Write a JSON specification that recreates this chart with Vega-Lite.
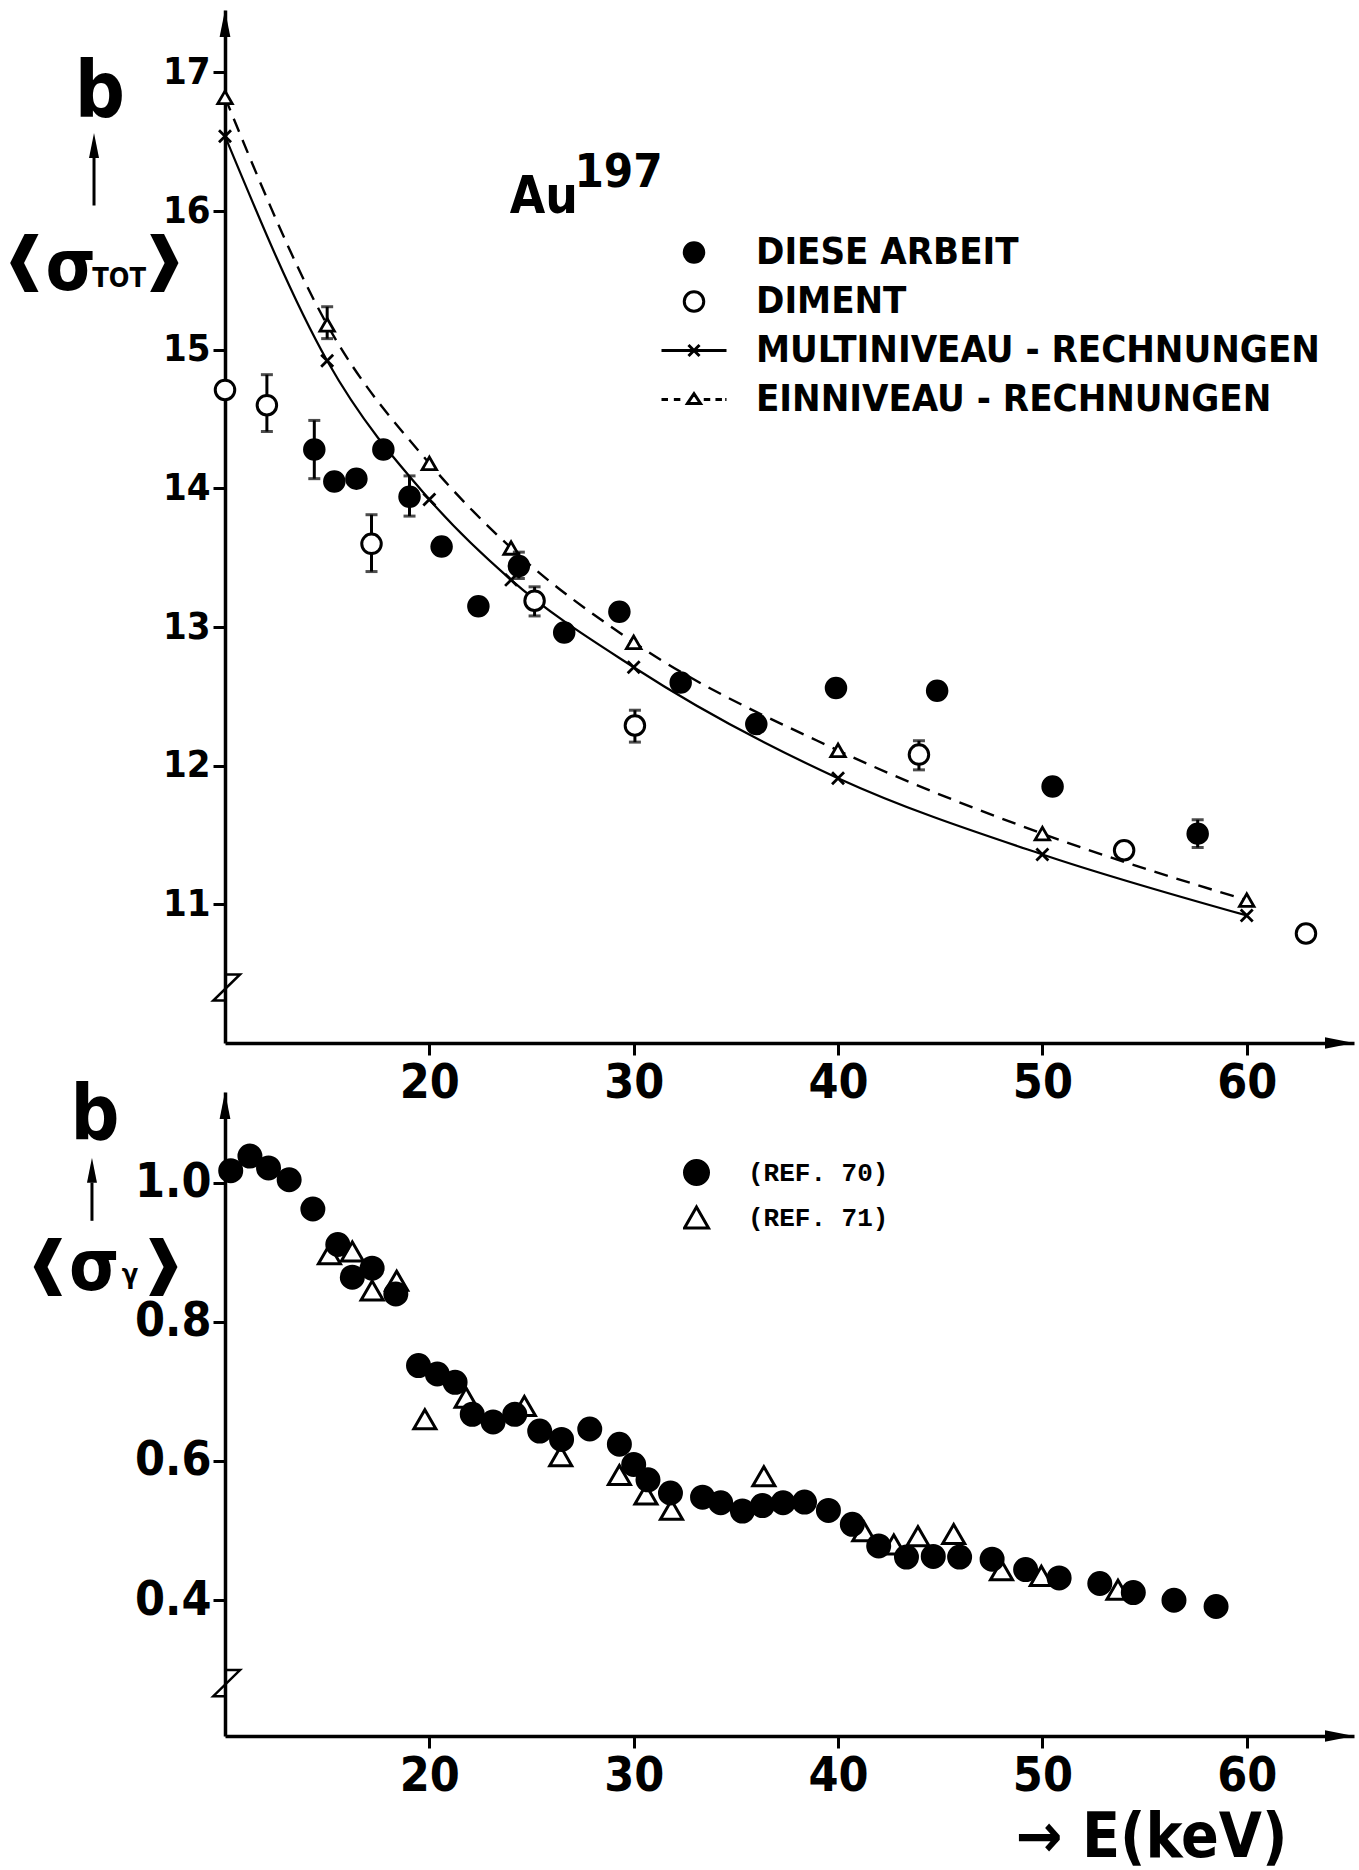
{
  "$schema": "https://vega.github.io/schema/vega-lite/v6.json",
  "background": "white",
  "padding": {"left": 0, "top": 9, "right": 5, "bottom": 2},
  "spacing": 49,
  "bounds": "flush",
  "resolve": {"scale": {"shape": "independent", "fill": "independent", "stroke": "independent"}, "legend": {"shape": "independent", "fill": "independent", "stroke": "independent"}},
  "config": {
    "view": {"stroke": null},
    "axis": {
      "grid": false,
      "domainColor": "black",
      "domainWidth": 3.5,
      "tickColor": "black",
      "tickWidth": 3,
      "tickSize": 12,
      "labelColor": "black",
      "labelFont": "Liberation Sans Narrow, DejaVu Sans Condensed, Liberation Sans, sans-serif",
      "labelFontWeight": "bold"
    }
  },
  "datasets": {
    "one": [{}],
    "tot": [
      {"series": "DIESE ARBEIT", "E": 14.37, "sigma": 14.28, "lo": 14.07, "hi": 14.49},
      {"series": "DIESE ARBEIT", "E": 15.35, "sigma": 14.05},
      {"series": "DIESE ARBEIT", "E": 16.43, "sigma": 14.07},
      {"series": "DIESE ARBEIT", "E": 17.75, "sigma": 14.28},
      {"series": "DIESE ARBEIT", "E": 19.03, "sigma": 13.94, "lo": 13.8, "hi": 14.09},
      {"series": "DIESE ARBEIT", "E": 20.6, "sigma": 13.58},
      {"series": "DIESE ARBEIT", "E": 22.4, "sigma": 13.15},
      {"series": "DIESE ARBEIT", "E": 24.38, "sigma": 13.44, "lo": 13.35, "hi": 13.54},
      {"series": "DIESE ARBEIT", "E": 26.6, "sigma": 12.96},
      {"series": "DIESE ARBEIT", "E": 29.3, "sigma": 13.11},
      {"series": "DIESE ARBEIT", "E": 32.3, "sigma": 12.6},
      {"series": "DIESE ARBEIT", "E": 36.0, "sigma": 12.3},
      {"series": "DIESE ARBEIT", "E": 39.9, "sigma": 12.56},
      {"series": "DIESE ARBEIT", "E": 44.85, "sigma": 12.54},
      {"series": "DIESE ARBEIT", "E": 50.5, "sigma": 11.85},
      {"series": "DIESE ARBEIT", "E": 57.6, "sigma": 11.51, "lo": 11.41, "hi": 11.61},
      {"series": "DIMENT", "E": 10.0, "sigma": 14.71},
      {"series": "DIMENT", "E": 12.05, "sigma": 14.6, "lo": 14.41, "hi": 14.82},
      {"series": "DIMENT", "E": 17.17, "sigma": 13.6, "lo": 13.4, "hi": 13.81},
      {"series": "DIMENT", "E": 25.15, "sigma": 13.19, "lo": 13.08, "hi": 13.29},
      {"series": "DIMENT", "E": 30.06, "sigma": 12.29, "lo": 12.17, "hi": 12.4},
      {"series": "DIMENT", "E": 43.96, "sigma": 12.08, "lo": 11.97, "hi": 12.18},
      {"series": "DIMENT", "E": 54.0, "sigma": 11.39},
      {"series": "DIMENT", "E": 62.9, "sigma": 10.79}
    ],
    "calc": [
      {"series": "MULTINIVEAU - RECHNUNGEN", "E": 10, "sigma": 16.54},
      {"series": "MULTINIVEAU - RECHNUNGEN", "E": 15, "sigma": 14.92},
      {"series": "MULTINIVEAU - RECHNUNGEN", "E": 20, "sigma": 13.92},
      {"series": "MULTINIVEAU - RECHNUNGEN", "E": 24, "sigma": 13.34},
      {"series": "MULTINIVEAU - RECHNUNGEN", "E": 30, "sigma": 12.71},
      {"series": "MULTINIVEAU - RECHNUNGEN", "E": 40, "sigma": 11.91},
      {"series": "MULTINIVEAU - RECHNUNGEN", "E": 50, "sigma": 11.36},
      {"series": "MULTINIVEAU - RECHNUNGEN", "E": 60, "sigma": 10.92},
      {"series": "EINNIVEAU - RECHNUNGEN", "E": 10, "sigma": 16.82},
      {"series": "EINNIVEAU - RECHNUNGEN", "E": 15, "sigma": 15.18, "lo": 15.08, "hi": 15.31},
      {"series": "EINNIVEAU - RECHNUNGEN", "E": 20, "sigma": 14.18},
      {"series": "EINNIVEAU - RECHNUNGEN", "E": 24, "sigma": 13.57},
      {"series": "EINNIVEAU - RECHNUNGEN", "E": 30, "sigma": 12.89},
      {"series": "EINNIVEAU - RECHNUNGEN", "E": 40, "sigma": 12.11},
      {"series": "EINNIVEAU - RECHNUNGEN", "E": 50, "sigma": 11.51},
      {"series": "EINNIVEAU - RECHNUNGEN", "E": 60, "sigma": 11.03}
    ],
    "capt": [
      {"ref": "(REF. 71)", "E": 15.11, "sigma": 0.897},
      {"ref": "(REF. 71)", "E": 16.23, "sigma": 0.901},
      {"ref": "(REF. 71)", "E": 17.2, "sigma": 0.845},
      {"ref": "(REF. 71)", "E": 18.4, "sigma": 0.859},
      {"ref": "(REF. 71)", "E": 19.78, "sigma": 0.66},
      {"ref": "(REF. 71)", "E": 21.8, "sigma": 0.691},
      {"ref": "(REF. 71)", "E": 24.65, "sigma": 0.679},
      {"ref": "(REF. 71)", "E": 26.43, "sigma": 0.607},
      {"ref": "(REF. 71)", "E": 29.3, "sigma": 0.58},
      {"ref": "(REF. 71)", "E": 30.6, "sigma": 0.552},
      {"ref": "(REF. 71)", "E": 31.85, "sigma": 0.53},
      {"ref": "(REF. 71)", "E": 36.37, "sigma": 0.578},
      {"ref": "(REF. 71)", "E": 41.26, "sigma": 0.499},
      {"ref": "(REF. 71)", "E": 42.73, "sigma": 0.48},
      {"ref": "(REF. 71)", "E": 43.91, "sigma": 0.492},
      {"ref": "(REF. 71)", "E": 45.66, "sigma": 0.495},
      {"ref": "(REF. 71)", "E": 48.0, "sigma": 0.443},
      {"ref": "(REF. 71)", "E": 49.95, "sigma": 0.435},
      {"ref": "(REF. 71)", "E": 53.7, "sigma": 0.415},
      {"ref": "(REF. 70)", "E": 10.28, "sigma": 1.017},
      {"ref": "(REF. 70)", "E": 11.22, "sigma": 1.038},
      {"ref": "(REF. 70)", "E": 12.13, "sigma": 1.021},
      {"ref": "(REF. 70)", "E": 13.14, "sigma": 1.004},
      {"ref": "(REF. 70)", "E": 14.3, "sigma": 0.962},
      {"ref": "(REF. 70)", "E": 15.52, "sigma": 0.911},
      {"ref": "(REF. 70)", "E": 16.23, "sigma": 0.864},
      {"ref": "(REF. 70)", "E": 17.2, "sigma": 0.877},
      {"ref": "(REF. 70)", "E": 18.36, "sigma": 0.84},
      {"ref": "(REF. 70)", "E": 19.47, "sigma": 0.737},
      {"ref": "(REF. 70)", "E": 20.39, "sigma": 0.725},
      {"ref": "(REF. 70)", "E": 21.26, "sigma": 0.713},
      {"ref": "(REF. 70)", "E": 22.1, "sigma": 0.667},
      {"ref": "(REF. 70)", "E": 23.12, "sigma": 0.656},
      {"ref": "(REF. 70)", "E": 24.18, "sigma": 0.667},
      {"ref": "(REF. 70)", "E": 25.4, "sigma": 0.643},
      {"ref": "(REF. 70)", "E": 26.47, "sigma": 0.631},
      {"ref": "(REF. 70)", "E": 27.85, "sigma": 0.646},
      {"ref": "(REF. 70)", "E": 29.3, "sigma": 0.624},
      {"ref": "(REF. 70)", "E": 30.0, "sigma": 0.595},
      {"ref": "(REF. 70)", "E": 30.7, "sigma": 0.573},
      {"ref": "(REF. 70)", "E": 31.8, "sigma": 0.554},
      {"ref": "(REF. 70)", "E": 33.37, "sigma": 0.548},
      {"ref": "(REF. 70)", "E": 34.26, "sigma": 0.54},
      {"ref": "(REF. 70)", "E": 35.32, "sigma": 0.528},
      {"ref": "(REF. 70)", "E": 36.3, "sigma": 0.536},
      {"ref": "(REF. 70)", "E": 37.31, "sigma": 0.54},
      {"ref": "(REF. 70)", "E": 38.36, "sigma": 0.541},
      {"ref": "(REF. 70)", "E": 39.53, "sigma": 0.529},
      {"ref": "(REF. 70)", "E": 40.7, "sigma": 0.509},
      {"ref": "(REF. 70)", "E": 41.99, "sigma": 0.478},
      {"ref": "(REF. 70)", "E": 43.35, "sigma": 0.462},
      {"ref": "(REF. 70)", "E": 44.66, "sigma": 0.463},
      {"ref": "(REF. 70)", "E": 45.95, "sigma": 0.462},
      {"ref": "(REF. 70)", "E": 47.54, "sigma": 0.459},
      {"ref": "(REF. 70)", "E": 49.18, "sigma": 0.444},
      {"ref": "(REF. 70)", "E": 50.82, "sigma": 0.432},
      {"ref": "(REF. 70)", "E": 52.81, "sigma": 0.424},
      {"ref": "(REF. 70)", "E": 54.45, "sigma": 0.411},
      {"ref": "(REF. 70)", "E": 56.44, "sigma": 0.4},
      {"ref": "(REF. 70)", "E": 58.5, "sigma": 0.391}
    ]
  },
  "vconcat": [
    {
      "width": 1129,
      "height": 1033,
      "layer": [
        {
          "data": {"name": "calc"},
          "transform": [{"filter": "datum.series === 'MULTINIVEAU - RECHNUNGEN'"}],
          "mark": {"type": "line", "interpolate": "monotone", "color": "black", "strokeWidth": 2.2},
          "encoding": {
            "x": {"field": "E", "type": "quantitative", "title": null,
              "scale": {"domain": [10, 65.25], "nice": false, "zero": false},
              "axis": {"values": [20, 30, 40, 50, 60], "format": "d", "labelFontSize": 48, "labelPadding": 4}},
            "y": {"field": "sigma", "type": "quantitative", "title": null,
              "scale": {"domain": [10, 17.45], "nice": false, "zero": false},
              "axis": {"values": [11, 12, 13, 14, 15, 16, 17], "format": "d", "labelFontSize": 38, "labelPadding": 3}}
          }
        },
        {
          "data": {"name": "calc"},
          "transform": [{"filter": "datum.series === 'EINNIVEAU - RECHNUNGEN'"}],
          "mark": {"type": "line", "interpolate": "monotone", "color": "black", "strokeWidth": 2.4, "strokeDash": [14, 9]},
          "encoding": {
            "x": {"field": "E", "type": "quantitative", "title": null},
            "y": {"field": "sigma", "type": "quantitative", "title": null}
          }
        },
        {
          "data": {"name": "calc"},
          "transform": [{"filter": "isValid(datum.lo)"}],
          "mark": {"type": "errorbar", "ticks": true, "size": 12, "thickness": 3, "color": "black"},
          "encoding": {
            "x": {"field": "E", "type": "quantitative", "title": null},
            "y": {"field": "lo", "type": "quantitative", "title": null},
            "y2": {"field": "hi"}
          }
        },
        {
          "data": {"name": "calc"},
          "transform": [{"filter": "datum.series === 'MULTINIVEAU - RECHNUNGEN'"}],
          "mark": {"type": "point", "shape": "M-1,-1L1,1M-1,1L1,-1", "size": 144, "stroke": "black", "strokeWidth": 2.8, "opacity": 1},
          "encoding": {
            "x": {"field": "E", "type": "quantitative", "title": null},
            "y": {"field": "sigma", "type": "quantitative", "title": null}
          }
        },
        {
          "data": {"name": "calc"},
          "transform": [{"filter": "datum.series === 'EINNIVEAU - RECHNUNGEN'"}],
          "mark": {"type": "point", "shape": "triangle-up", "size": 210, "stroke": "black", "strokeWidth": 2.8, "fill": "white", "opacity": 1},
          "encoding": {
            "x": {"field": "E", "type": "quantitative", "title": null},
            "y": {"field": "sigma", "type": "quantitative", "title": null}
          }
        },
        {
          "data": {"name": "tot"},
          "transform": [{"filter": "isValid(datum.lo)"}],
          "mark": {"type": "errorbar", "ticks": true, "size": 12, "thickness": 3, "color": "black"},
          "encoding": {
            "x": {"field": "E", "type": "quantitative", "title": null},
            "y": {"field": "lo", "type": "quantitative", "title": null},
            "y2": {"field": "hi"}
          }
        },
        {
          "data": {"name": "tot"},
          "mark": {"type": "point", "size": 4225, "strokeWidth": 3, "opacity": 1},
          "encoding": {
            "x": {"field": "E", "type": "quantitative", "title": null},
            "y": {"field": "sigma", "type": "quantitative", "title": null},
            "shape": {"field": "series", "type": "nominal",
              "scale": {"domain": ["DIESE ARBEIT", "DIMENT", "MULTINIVEAU - RECHNUNGEN", "EINNIVEAU - RECHNUNGEN"],
                "range": [
                  "M-0.3,0A0.3,0.3,0,1,0,0.3,0A0.3,0.3,0,1,0,-0.3,0Z",
                  "M-0.3,0A0.3,0.3,0,1,0,0.3,0A0.3,0.3,0,1,0,-0.3,0Z",
                  "M-1,0L1,0M-0.17,-0.17L0.17,0.17M-0.17,0.17L0.17,-0.17",
                  "M-1,0L-0.8,0M-0.62,0L-0.42,0M-0.2,0.12L0,-0.18L0.2,0.12ZM0.3,0L0.5,0M0.66,0L0.86,0M0.96,0L1,0"]},
              "legend": {"orient": "none", "legendX": 435, "legendY": 219, "title": null, "symbolSize": 4225, "symbolStrokeWidth": 3,
                "labelFont": "Liberation Sans Narrow, DejaVu Sans Condensed, Liberation Sans, sans-serif", "labelFontSize": 38, "labelFontWeight": "bold", "labelColor": "black",
                "labelOffset": 28, "clipHeight": 47, "rowPadding": 2, "padding": 0, "labelLimit": 1000}},
            "fill": {"field": "series", "type": "nominal",
              "scale": {"domain": ["DIESE ARBEIT", "DIMENT", "MULTINIVEAU - RECHNUNGEN", "EINNIVEAU - RECHNUNGEN"],
                "range": ["black", "white", "transparent", "transparent"]},
              "legend": {"orient": "none", "legendX": 435, "legendY": 219, "title": null, "symbolSize": 4225, "symbolStrokeWidth": 3,
                "labelFont": "Liberation Sans Narrow, DejaVu Sans Condensed, Liberation Sans, sans-serif", "labelFontSize": 38, "labelFontWeight": "bold", "labelColor": "black",
                "labelOffset": 28, "clipHeight": 47, "rowPadding": 2, "padding": 0, "labelLimit": 1000}},
            "stroke": {"field": "series", "type": "nominal",
              "scale": {"domain": ["DIESE ARBEIT", "DIMENT", "MULTINIVEAU - RECHNUNGEN", "EINNIVEAU - RECHNUNGEN"],
                "range": ["black", "black", "black", "black"]},
              "legend": {"orient": "none", "legendX": 435, "legendY": 219, "title": null, "symbolSize": 4225, "symbolStrokeWidth": 3,
                "labelFont": "Liberation Sans Narrow, DejaVu Sans Condensed, Liberation Sans, sans-serif", "labelFontSize": 38, "labelFontWeight": "bold", "labelColor": "black",
                "labelOffset": 28, "clipHeight": 47, "rowPadding": 2, "padding": 0, "labelLimit": 1000}}
          }
        },
        {
          "data": {"name": "one"},
          "mark": {"type": "point", "shape": "M0,-1L0.4,1L-0.4,1Z", "size": 729, "fill": "black", "stroke": null, "opacity": 1},
          "encoding": {"x": {"datum": 10, "type": "quantitative", "title": null}, "y": {"datum": 17.353, "type": "quantitative", "title": null}}
        },
        {
          "data": {"name": "one"},
          "mark": {"type": "point", "shape": "M1,0L-1,0.4L-1,-0.4Z", "size": 841, "fill": "black", "stroke": null, "opacity": 1},
          "encoding": {"x": {"datum": 64.54, "type": "quantitative", "title": null}, "y": {"datum": 10, "type": "quantitative", "title": null}}
        },
        {
          "data": {"name": "one"},
          "mark": {"type": "point", "shape": "M0.1,-0.87L1,-0.87L-0.78,0.87L0,0.87", "size": 900, "fill": null, "stroke": "black", "strokeWidth": 2.5, "opacity": 1},
          "encoding": {"x": {"datum": 10, "type": "quantitative", "title": null}, "y": {"datum": 10.4, "type": "quantitative", "title": null}}
        },
        {
          "data": {"name": "one"},
          "mark": {"type": "text", "text": "b", "font": "Liberation Sans Narrow, DejaVu Sans Condensed, Liberation Sans, sans-serif", "fontSize": 78, "fontWeight": "bold", "align": "center", "baseline": "alphabetic", "color": "black"},
          "encoding": {"x": {"datum": 3.88, "type": "quantitative", "title": null}, "y": {"datum": 16.68, "type": "quantitative", "title": null}}
        },
        {
          "data": {"name": "one"},
          "mark": {"type": "rule", "strokeWidth": 3, "color": "black"},
          "encoding": {"x": {"datum": 3.59, "type": "quantitative", "title": null}, "y": {"datum": 16.04, "type": "quantitative", "title": null}, "y2": {"datum": 16.45}}
        },
        {
          "data": {"name": "one"},
          "mark": {"type": "point", "shape": "M0,-1L0.4,1L-0.4,1Z", "size": 625, "fill": "black", "stroke": null, "opacity": 1},
          "encoding": {"x": {"datum": 3.59, "type": "quantitative", "title": null}, "y": {"datum": 16.473, "type": "quantitative", "title": null}}
        },
        {
          "data": {"name": "one"},
          "mark": {"type": "text", "text": "❰", "font": "DejaVu Sans, sans-serif", "fontSize": 58, "fontWeight": "bold", "align": "center", "baseline": "middle", "color": "black"},
          "encoding": {"x": {"datum": 0.2, "type": "quantitative", "title": null}, "y": {"datum": 15.64, "type": "quantitative", "title": null}}
        },
        {
          "data": {"name": "one"},
          "mark": {"type": "text", "text": "σ", "font": "Liberation Sans Narrow, DejaVu Sans Condensed, Liberation Sans, sans-serif", "fontSize": 72, "fontWeight": "bold", "align": "center", "baseline": "alphabetic", "color": "black"},
          "encoding": {"x": {"datum": 2.45, "type": "quantitative", "title": null}, "y": {"datum": 15.43, "type": "quantitative", "title": null}}
        },
        {
          "data": {"name": "one"},
          "mark": {"type": "text", "text": "TOT", "font": "Liberation Sans Narrow, DejaVu Sans Condensed, Liberation Sans, sans-serif", "fontSize": 27, "fontWeight": "bold", "align": "left", "baseline": "alphabetic", "color": "black"},
          "encoding": {"x": {"datum": 3.5, "type": "quantitative", "title": null}, "y": {"datum": 15.45, "type": "quantitative", "title": null}}
        },
        {
          "data": {"name": "one"},
          "mark": {"type": "text", "text": "❱", "font": "DejaVu Sans, sans-serif", "fontSize": 58, "fontWeight": "bold", "align": "center", "baseline": "middle", "color": "black"},
          "encoding": {"x": {"datum": 7.0, "type": "quantitative", "title": null}, "y": {"datum": 15.64, "type": "quantitative", "title": null}}
        },
        {
          "data": {"name": "one"},
          "mark": {"type": "text", "text": "Au", "font": "Liberation Sans Narrow, DejaVu Sans Condensed, Liberation Sans, sans-serif", "fontSize": 51, "fontWeight": "bold", "align": "left", "baseline": "alphabetic", "color": "black"},
          "encoding": {"x": {"datum": 23.94, "type": "quantitative", "title": null}, "y": {"datum": 15.986, "type": "quantitative", "title": null}}
        },
        {
          "data": {"name": "one"},
          "mark": {"type": "text", "text": "197", "font": "Liberation Sans Narrow, DejaVu Sans Condensed, Liberation Sans, sans-serif", "fontSize": 47, "fontWeight": "bold", "align": "left", "baseline": "alphabetic", "color": "black"},
          "encoding": {"x": {"datum": 27.1, "type": "quantitative", "title": null}, "y": {"datum": 16.17, "type": "quantitative", "title": null}}
        }
      ]
    },
    {
      "width": 1129,
      "height": 644,
      "layer": [
        {
          "data": {"name": "capt"},
          "mark": {"type": "point", "size": 484, "strokeWidth": 3, "opacity": 1},
          "encoding": {
            "x": {"field": "E", "type": "quantitative", "title": "→ E(keV)",
              "scale": {"domain": [10, 65.25], "nice": false, "zero": false},
              "axis": {"values": [20, 30, 40, 50, 60], "format": "d", "labelFontSize": 48, "labelPadding": 4,
                "titleFont": "Liberation Sans Narrow, DejaVu Sans Condensed, Liberation Sans, sans-serif", "titleFontSize": 62, "titleFontWeight": "bold", "titleColor": "black",
                "titleAnchor": null, "titleAlign": "right", "titleBaseline": "alphabetic", "titleX": 1062, "titleY": 120}},
            "y": {"field": "sigma", "type": "quantitative", "title": null,
              "scale": {"domain": [0.205, 1.13], "nice": false, "zero": false},
              "axis": {"values": [0.4, 0.6, 0.8, 1.0], "format": ".1f", "labelFontSize": 48, "labelPadding": 2}},
            "shape": {"field": "ref", "type": "nominal",
              "scale": {"domain": ["(REF. 70)", "(REF. 71)"], "range": ["circle", "triangle-up"]},
              "legend": {"orient": "none", "legendX": 458, "legendY": 59, "title": null, "symbolSize": 576, "symbolStrokeWidth": 3,
                "labelFont": "Liberation Mono, DejaVu Sans Mono, monospace", "labelFontSize": 26, "labelFontWeight": "bold", "labelColor": "black",
                "labelOffset": 38, "clipHeight": 43, "rowPadding": 2, "padding": 0}},
            "fill": {"field": "ref", "type": "nominal",
              "scale": {"domain": ["(REF. 70)", "(REF. 71)"], "range": ["black", "white"]},
              "legend": {"orient": "none", "legendX": 458, "legendY": 59, "title": null, "symbolSize": 576, "symbolStrokeWidth": 3,
                "labelFont": "Liberation Mono, DejaVu Sans Mono, monospace", "labelFontSize": 26, "labelFontWeight": "bold", "labelColor": "black",
                "labelOffset": 38, "clipHeight": 43, "rowPadding": 2, "padding": 0}},
            "stroke": {"field": "ref", "type": "nominal",
              "scale": {"domain": ["(REF. 70)", "(REF. 71)"], "range": ["black", "black"]},
              "legend": {"orient": "none", "legendX": 458, "legendY": 59, "title": null, "symbolSize": 576, "symbolStrokeWidth": 3,
                "labelFont": "Liberation Mono, DejaVu Sans Mono, monospace", "labelFontSize": 26, "labelFontWeight": "bold", "labelColor": "black",
                "labelOffset": 38, "clipHeight": 43, "rowPadding": 2, "padding": 0}}
          }
        },
        {
          "data": {"name": "one"},
          "mark": {"type": "point", "shape": "M0,-1L0.4,1L-0.4,1Z", "size": 729, "fill": "black", "stroke": null, "opacity": 1},
          "encoding": {"x": {"datum": 10, "type": "quantitative", "title": null}, "y": {"datum": 1.1106, "type": "quantitative", "title": null}}
        },
        {
          "data": {"name": "one"},
          "mark": {"type": "point", "shape": "M1,0L-1,0.4L-1,-0.4Z", "size": 841, "fill": "black", "stroke": null, "opacity": 1},
          "encoding": {"x": {"datum": 64.54, "type": "quantitative", "title": null}, "y": {"datum": 0.205, "type": "quantitative", "title": null}}
        },
        {
          "data": {"name": "one"},
          "mark": {"type": "point", "shape": "M0.1,-0.87L1,-0.87L-0.78,0.87L0,0.87", "size": 900, "fill": null, "stroke": "black", "strokeWidth": 2.5, "opacity": 1},
          "encoding": {"x": {"datum": 10, "type": "quantitative", "title": null}, "y": {"datum": 0.281, "type": "quantitative", "title": null}}
        },
        {
          "data": {"name": "one"},
          "mark": {"type": "text", "text": "b", "font": "Liberation Sans Narrow, DejaVu Sans Condensed, Liberation Sans, sans-serif", "fontSize": 76, "fontWeight": "bold", "align": "center", "baseline": "alphabetic", "color": "black"},
          "encoding": {"x": {"datum": 3.64, "type": "quantitative", "title": null}, "y": {"datum": 1.063, "type": "quantitative", "title": null}}
        },
        {
          "data": {"name": "one"},
          "mark": {"type": "rule", "strokeWidth": 3, "color": "black"},
          "encoding": {"x": {"datum": 3.49, "type": "quantitative", "title": null}, "y": {"datum": 0.945, "type": "quantitative", "title": null}, "y2": {"datum": 1.0}}
        },
        {
          "data": {"name": "one"},
          "mark": {"type": "point", "shape": "M0,-1L0.4,1L-0.4,1Z", "size": 625, "fill": "black", "stroke": null, "opacity": 1},
          "encoding": {"x": {"datum": 3.49, "type": "quantitative", "title": null}, "y": {"datum": 1.0175, "type": "quantitative", "title": null}}
        },
        {
          "data": {"name": "one"},
          "mark": {"type": "text", "text": "❰", "font": "DejaVu Sans, sans-serif", "fontSize": 58, "fontWeight": "bold", "align": "center", "baseline": "middle", "color": "black"},
          "encoding": {"x": {"datum": 1.35, "type": "quantitative", "title": null}, "y": {"datum": 0.882, "type": "quantitative", "title": null}}
        },
        {
          "data": {"name": "one"},
          "mark": {"type": "text", "text": "σ", "font": "Liberation Sans Narrow, DejaVu Sans Condensed, Liberation Sans, sans-serif", "fontSize": 72, "fontWeight": "bold", "align": "center", "baseline": "alphabetic", "color": "black"},
          "encoding": {"x": {"datum": 3.6, "type": "quantitative", "title": null}, "y": {"datum": 0.846, "type": "quantitative", "title": null}}
        },
        {
          "data": {"name": "one"},
          "mark": {"type": "text", "text": "γ", "font": "Liberation Sans Narrow, DejaVu Sans Condensed, Liberation Sans, sans-serif", "fontSize": 27, "fontWeight": "bold", "align": "left", "baseline": "alphabetic", "color": "black"},
          "encoding": {"x": {"datum": 4.95, "type": "quantitative", "title": null}, "y": {"datum": 0.855, "type": "quantitative", "title": null}}
        },
        {
          "data": {"name": "one"},
          "mark": {"type": "text", "text": "❱", "font": "DejaVu Sans, sans-serif", "fontSize": 58, "fontWeight": "bold", "align": "center", "baseline": "middle", "color": "black"},
          "encoding": {"x": {"datum": 6.95, "type": "quantitative", "title": null}, "y": {"datum": 0.882, "type": "quantitative", "title": null}}
        }
      ]
    }
  ]
}
